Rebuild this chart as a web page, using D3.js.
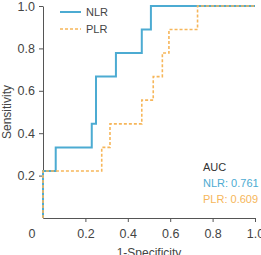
<!DOCTYPE html>
<html><head><meta charset="utf-8">
<script src="https://cdn.jsdelivr.net/npm/d3@7"></script>
<style>body{margin:0;background:#fff}svg{display:block}text{font-family:"Liberation Sans",Arial,sans-serif}</style>
</head><body>
<svg id="c" width="261" height="255"></svg>
<script>
const nlrFpr = [0,0,0.06,0.06,0.23,0.23,0.25,0.25,0.344,0.344,0.466,0.466,0.509,0.509,1];
const nlrTpr = [0,0.222,0.222,0.333,0.333,0.444,0.444,0.667,0.667,0.778,0.778,0.889,0.889,1,1];
const plrFpr = [0,0,0.277,0.277,0.316,0.316,0.466,0.466,0.52,0.52,0.563,0.563,0.594,0.594,0.729,0.729,1];
const plrTpr = [0,0.222,0.222,0.333,0.333,0.444,0.444,0.556,0.556,0.667,0.667,0.778,0.778,0.889,0.889,1,1];
const xTicks = [0.2,0.4,0.6,0.8,1.0];
const yTicks = [0.2,0.4,0.6,0.8,1.0];
const seriesNames = ["NLR","PLR"];
const aucValues = ["0.761","0.609"];

const svg = d3.select("#c");
const x = d3.scaleLinear().domain([0,1]).range([43,255]);
const y = d3.scaleLinear().domain([0,1]).range([218,6]);
const axisCol = "#555", textCol = "#444";
const colors = ["#4cabd2","#f6b65a"];

const xa = svg.append("g").attr("transform","translate(0,218)")
  .call(d3.axisBottom(x).tickValues(xTicks).tickFormat(d3.format(".1f")).tickSize(4).tickSizeOuter(0));
const ya = svg.append("g").attr("transform","translate(43,0)")
  .call(d3.axisLeft(y).tickValues(yTicks).tickFormat(d3.format(".1f")).tickSize(4).tickSizeOuter(0));
[xa,ya].forEach(g=>{
  g.select(".domain").attr("stroke",axisCol);
  g.selectAll(".tick line").attr("stroke",axisCol);
  g.selectAll(".tick text").attr("fill",textCol).style("font-size","12.5px");
});
xa.selectAll(".tick text").attr("dy","0").attr("y",20);
ya.selectAll(".tick text").attr("x",-8);
svg.append("text").attr("x",32).attr("y",238).attr("text-anchor","middle")
  .attr("fill",textCol).style("font-size","12.5px").text("0");

svg.append("text").attr("x",149).attr("y",257).attr("text-anchor","middle")
  .attr("fill",textCol).style("font-size","12px").text("1-Specificity");
svg.append("text").attr("transform","translate(10.5,112) rotate(-90)").attr("text-anchor","middle")
  .attr("fill",textCol).style("font-size","12px").text("Sensitivity");

const line = d3.line().x(d=>x(d[0])).y(d=>y(d[1]));
const plr = plrFpr.map((f,i)=>[f,plrTpr[i]]);
const nlr = nlrFpr.map((f,i)=>[f,nlrTpr[i]]);
svg.append("path").attr("d",line(nlr)).attr("fill","none").attr("stroke",colors[0])
  .attr("stroke-width",2);
svg.append("path").attr("d",line(plr)).attr("fill","none").attr("stroke",colors[1])
  .attr("stroke-width",1.6).attr("stroke-dasharray","3,2");

// legend
seriesNames.forEach((n,i)=>{
  const ly = 12 + i*17;
  svg.append("line").attr("x1",60).attr("x2",81).attr("y1",ly).attr("y2",ly)
    .attr("stroke",colors[i]).attr("stroke-width",i?1.6:2).attr("stroke-dasharray",i?"3,2":null);
  svg.append("text").attr("x",86).attr("y",ly+4).attr("fill",textCol).style("font-size","11px").text(n);
});

svg.append("text").attr("x",203).attr("y",171).attr("fill","#333").style("font-size","11px").text("AUC");
seriesNames.forEach((n,i)=>{
  svg.append("text").attr("x",203).attr("y",187+i*16).attr("fill",colors[i])
    .style("font-size","11px").text(n+": "+aucValues[i]);
});
</script>
</body></html>
